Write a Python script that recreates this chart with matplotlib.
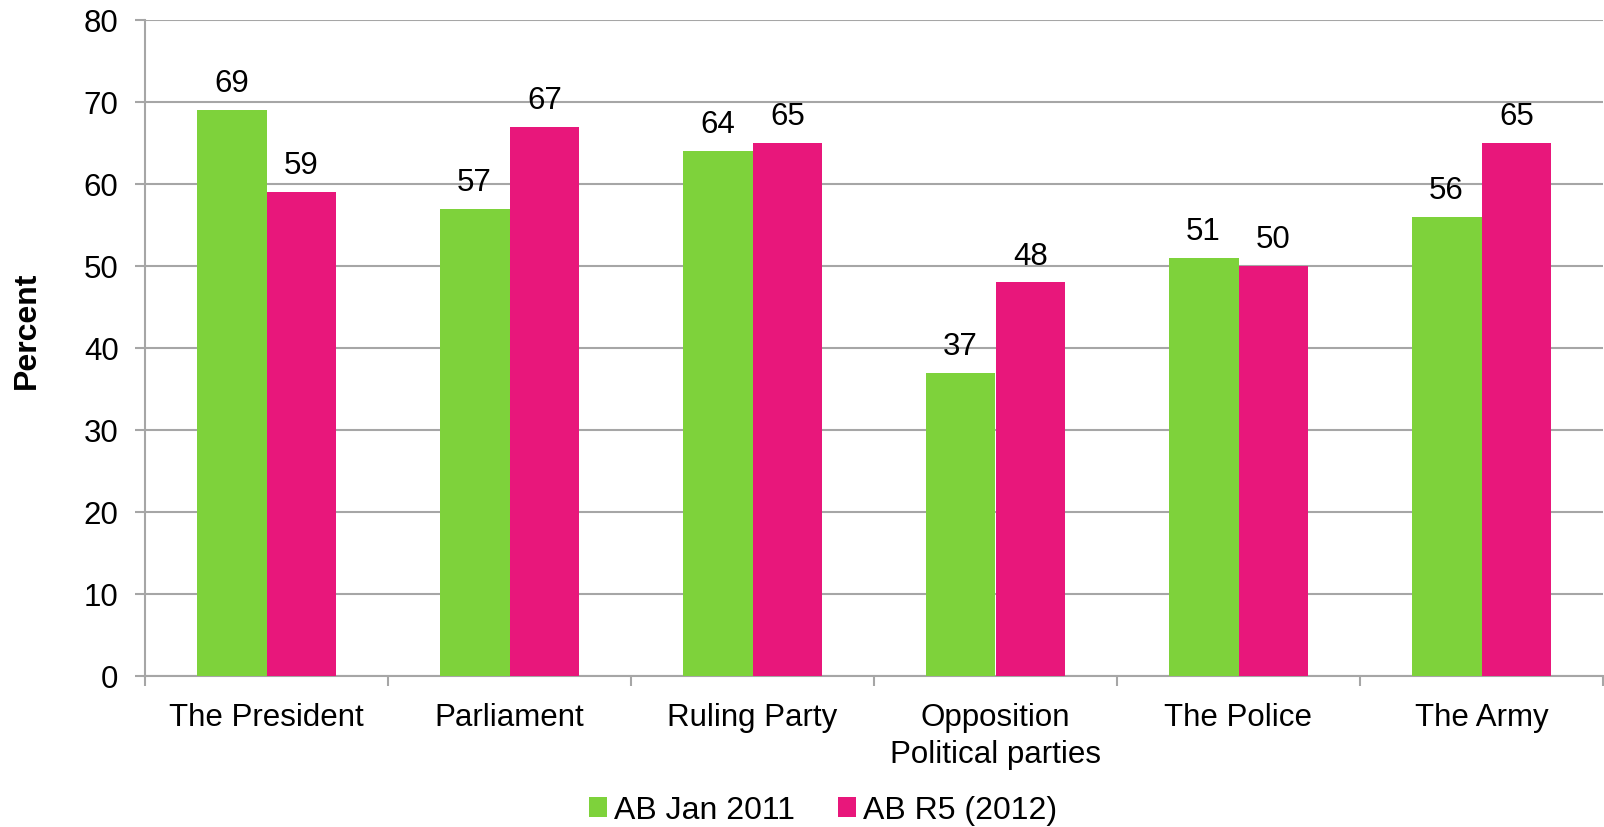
import matplotlib
matplotlib.use("Agg")
import matplotlib.pyplot as plt
import numpy as np

categories = ["The President", "Parliament", "Ruling Party",
              "Opposition\nPolitical parties", "The Police", "The Army"]
series_names = ["AB Jan 2011", "AB R5 (2012)"]
jan2011 = [69, 57, 64, 37, 51, 56]
r5_2012 = [59, 67, 65, 48, 50, 65]
y_ticks = [0, 10, 20, 30, 40, 50, 60, 70, 80]

GREEN = "#7ED23B"
PINK = "#E8177B"
GRID = "#A6A6A6"

plt.rcParams["font.family"] = ["Liberation Sans", "DejaVu Sans"]

fig = plt.figure(figsize=(16.04, 8.28), dpi=100)
ax = fig.add_axes([145 / 1604, 151 / 828, 1458 / 1604, 656 / 828])

x = np.arange(len(categories))
w = 0.288
b1 = ax.bar(x - w / 2, jan2011, w, color=GREEN, label=series_names[0], zorder=3)
b2 = ax.bar(x + w / 2, r5_2012, w, color=PINK, label=series_names[1], zorder=3)

for bars, vals in ((b1, jan2011), (b2, r5_2012)):
    for rect, v in zip(bars, vals):
        ax.annotate(str(v), (rect.get_x() + rect.get_width() / 2, v),
                    xytext=(0, 13.5), textcoords="offset points",
                    ha="center", va="baseline", fontsize=22.5, color="black")

ax.set_xlim(-0.5, len(categories) - 0.5)
ax.set_ylim(0, 80)
ax.set_yticks(y_ticks)
ax.set_yticklabels([str(t) for t in y_ticks], fontsize=22.5)
ax.yaxis.grid(True, color=GRID, linewidth=1.5, zorder=0)
ax.set_axisbelow(True)

ax.set_xticks(x)
ax.set_xticklabels(categories, fontsize=22.5, linespacing=1.3)
ax.set_xticks(np.arange(-0.5, len(categories)), minor=True)
ax.tick_params(axis="x", which="major", length=0, pad=18.5)
ax.tick_params(axis="x", which="minor", length=7, width=1.5, color=GRID)
ax.tick_params(axis="y", length=7, width=1.5, color=GRID, pad=12)

for s in ("top", "right"):
    ax.spines[s].set_visible(False)
for s in ("left", "bottom"):
    ax.spines[s].set_color(GRID)
    ax.spines[s].set_linewidth(1.5)

fig.text(27 / 1604, (828 - 330) / 828, "Percent", rotation=90,
         ha="center", va="center", fontsize=23, fontweight="bold")

leg = fig.legend(handles=[b1, b2], labels=series_names, loc="center",
                 bbox_to_anchor=(823 / 1604, 16.5 / 828), ncol=2, frameon=False,
                 fontsize=23, handlelength=0.56, handleheight=0.56,
                 handletextpad=0.22, columnspacing=1.35)

fig.savefig("out.png", dpi=100)
